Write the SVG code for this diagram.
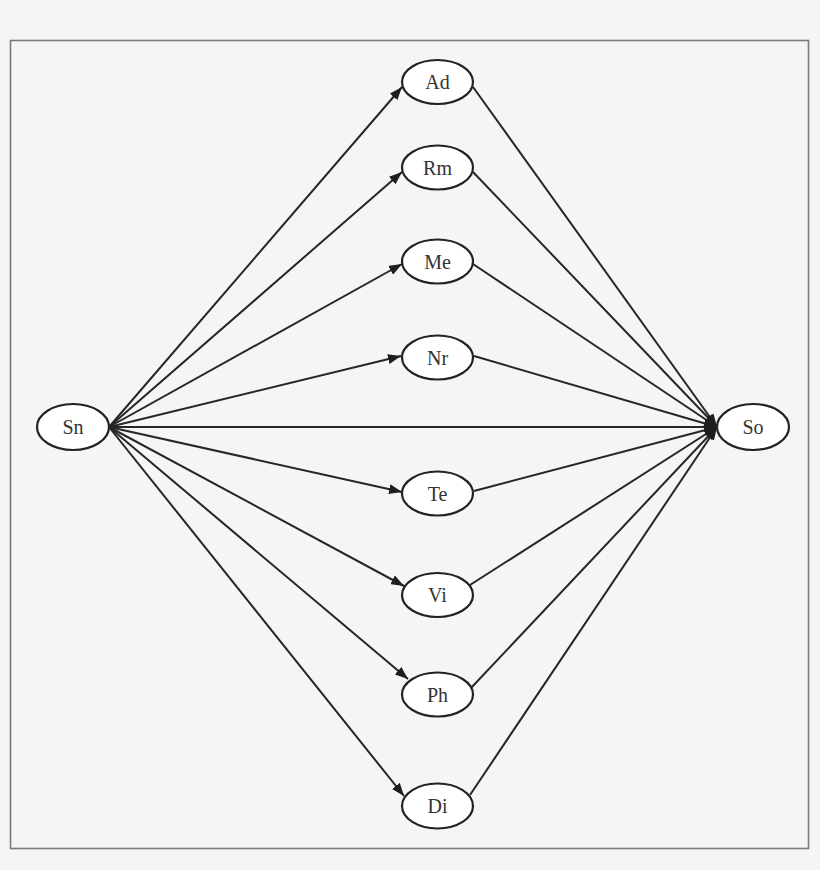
<svg xmlns="http://www.w3.org/2000/svg" width="820" height="870" viewBox="0 0 820 870">
<defs>
<marker id="arr" markerWidth="14" markerHeight="10" refX="13" refY="5" orient="auto" markerUnits="userSpaceOnUse">
<path d="M0,0 L13,5 L0,10 z" fill="#1e1e1e"/>
</marker>
<style>
.edge{stroke:#262626;stroke-width:2;fill:none}
.arrow{marker-end:url(#arr)}
.node ellipse{fill:#ffffff;stroke:#222;stroke-width:2.2}
.node text{font-family:"Liberation Serif","Times New Roman",serif;font-size:20px;fill:#333;text-anchor:middle}
</style>
</defs>
<rect x="0" y="0" width="820" height="870" fill="#f5f5f5"/>
<rect x="10.5" y="40.5" width="798" height="808" fill="#f5f5f5" stroke="#7a7a7a" stroke-width="1.6"/>
<g id="connectors">
<line class="edge arrow" x1="109" y1="427" x2="402" y2="87"/>
<line class="edge arrow" x1="109" y1="427" x2="402" y2="172"/>
<line class="edge arrow" x1="109" y1="427" x2="402" y2="264"/>
<line class="edge arrow" x1="109" y1="427" x2="401" y2="356"/>
<line class="edge arrow" x1="109" y1="427" x2="717" y2="427"/>
<line class="edge arrow" x1="109" y1="427" x2="402" y2="492"/>
<line class="edge arrow" x1="109" y1="427" x2="404" y2="586"/>
<line class="edge arrow" x1="109" y1="427" x2="408" y2="679"/>
<line class="edge arrow" x1="109" y1="427" x2="404" y2="796"/>
<line class="edge arrow" x1="473" y1="87" x2="717" y2="427"/>
<line class="edge arrow" x1="473" y1="172" x2="717" y2="427"/>
<line class="edge arrow" x1="473" y1="264" x2="717" y2="427"/>
<line class="edge arrow" x1="474" y1="356" x2="717" y2="427"/>
<line class="edge arrow" x1="474" y1="491" x2="717" y2="427"/>
<line class="edge arrow" x1="470" y1="585" x2="717" y2="427"/>
<line class="edge arrow" x1="471" y1="688" x2="717" y2="427"/>
<line class="edge arrow" x1="470" y1="795" x2="717" y2="427"/>
</g>
<g id="Sn" class="node"><ellipse cx="73" cy="427" rx="36" ry="23"/><text x="73" y="434">Sn</text></g>
<g id="So" class="node"><ellipse cx="753" cy="427" rx="36" ry="23"/><text x="753" y="434">So</text></g>
<g id="Ad" class="node"><ellipse cx="437.5" cy="82" rx="35.5" ry="22"/><text x="437.5" y="89">Ad</text></g>
<g id="Rm" class="node"><ellipse cx="437.5" cy="167.5" rx="35.5" ry="22"/><text x="437.5" y="174.5">Rm</text></g>
<g id="Me" class="node"><ellipse cx="437.5" cy="261.5" rx="35.5" ry="22"/><text x="437.5" y="268.5">Me</text></g>
<g id="Nr" class="node"><ellipse cx="437.5" cy="357.5" rx="35.5" ry="22"/><text x="437.5" y="364.5">Nr</text></g>
<g id="Te" class="node"><ellipse cx="437.5" cy="493.5" rx="35.5" ry="22"/><text x="437.5" y="500.5">Te</text></g>
<g id="Vi" class="node"><ellipse cx="437.5" cy="595" rx="35.5" ry="22"/><text x="437.5" y="602">Vi</text></g>
<g id="Ph" class="node"><ellipse cx="437.5" cy="694.5" rx="35.5" ry="22"/><text x="437.5" y="701.5">Ph</text></g>
<g id="Di" class="node"><ellipse cx="437.5" cy="806" rx="35.5" ry="22.5"/><text x="437.5" y="813">Di</text></g>
</svg>
